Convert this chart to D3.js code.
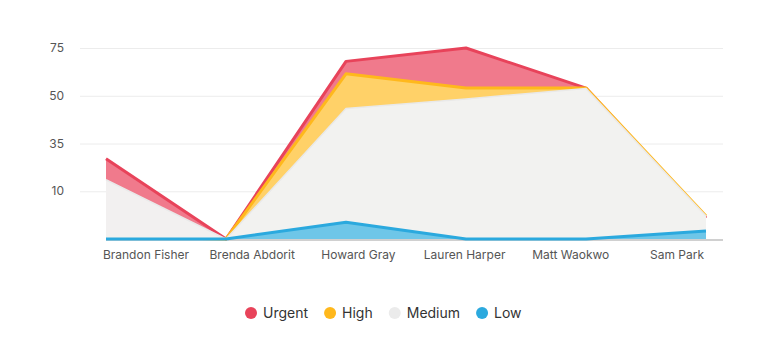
<!DOCTYPE html>
<html>
<head>
<meta charset="utf-8">
<script src="https://cdn.jsdelivr.net/npm/d3@7"></script>
<style>
  body { margin: 0; background: #fff; font-family: Inter, "Noto Sans", sans-serif; }
  .grid line { stroke: #ececec; }
  .tick-label { fill: #555; font-size: 12px; }
</style>
</head>
<body>
<div id="chart"></div>
<script>
// data
var people = ["Brandon Fisher", "Brenda Abdorit", "Howard Gray", "Lauren Harper", "Matt Waokwo", "Sam Park"];
var urgent = [27, 0, 68, 75, 54, 4.4];
var high   = [0.5, 0, 61.5, 54, 54, 4.8];
var medium = [16, 0, 46, 49, 53.8, 4.8];
var low    = [0, 0, 3.5, 0, 0, 1.7];
var yTicks = [10, 35, 50, 75];

var series = [
    { name: "Urgent", values: urgent, stroke: "#e8435a", fill: "#f07a8c", op: 1, sw: 3 },
    { name: "High",   values: high,   stroke: "#ffb81c", fill: "#ffd168", op: 1, sw: 3 },
    { name: "Medium", values: medium, stroke: "#e9e9e9", fill: "#f2f2f2", op: 0.985, sw: 1.5 },
    { name: "Low",    values: low,    stroke: "#2ba9de", fill: "#6ec6e8", op: 1, sw: 3 }
];
var legendColors = ["#e8435a", "#ffb81c", "#ebebeb", "#2ba9de"];

var width = 768, height = 363;
var plotLeft = 80, plotRight = 723, plotTop = 48, plotBottom = 239;

var svg = d3.select("#chart").append("svg")
    .attr("width", width)
    .attr("height", height);

// y axis: ticks are evenly spaced, so use a polylinear scale
var yDomain = [0].concat(yTicks);
var yScale = d3.scaleLinear()
    .domain(yDomain)
    .range(yDomain.map(function (d, i) { return plotBottom - i * (plotBottom - plotTop) / yTicks.length; }));

var xScale = d3.scalePoint().domain(people).range([106, 706]);
var labelScale = d3.scalePoint().domain(people).range([146, 677]);

var grid = svg.append("g").attr("class", "grid");
grid.selectAll("line").data(yTicks).enter().append("line")
    .attr("x1", plotLeft).attr("x2", plotRight)
    .attr("y1", function (d) { return yScale(d) + 0.5; })
    .attr("y2", function (d) { return yScale(d) + 0.5; });

svg.append("g").selectAll("text").data(yTicks).enter().append("text")
    .attr("class", "tick-label")
    .attr("x", 64)
    .attr("y", function (d) { return yScale(d); })
    .attr("dy", "0.35em")
    .attr("text-anchor", "end")
    .text(function (d) { return d; });

// axis base line
svg.append("line")
    .attr("x1", xScale(people[0])).attr("x2", plotRight)
    .attr("y1", plotBottom + 1).attr("y2", plotBottom + 1)
    .attr("stroke", "#d0d0d0").attr("stroke-width", 2);

var area = d3.area()
    .x(function (d, i) { return xScale(people[i]); })
    .y0(yScale(0))
    .y1(function (d) { return yScale(d); });

var line = d3.line()
    .x(function (d, i) { return xScale(people[i]); })
    .y(function (d) { return yScale(d); });

var g = svg.append("g");
series.forEach(function (s) {
    g.append("path")
        .attr("d", area(s.values))
        .attr("fill", s.fill)
        .attr("fill-opacity", s.op);
    g.append("path")
        .attr("d", line(s.values))
        .attr("fill", "none")
        .attr("stroke", s.stroke)
        .attr("stroke-width", s.sw)
        .attr("stroke-linejoin", "round");
});

svg.append("g").selectAll("text").data(people).enter().append("text")
    .attr("class", "tick-label")
    .attr("x", function (d) { return labelScale(d); })
    .attr("y", 259)
    .attr("text-anchor", "middle")
    .text(function (d) { return d; });

// legend
var legend = svg.append("g").attr("transform", "translate(251,313)");
var lx = 0;
series.forEach(function (s, i) {
    var item = legend.append("g").attr("transform", "translate(" + lx + ",0)");
    item.append("circle").attr("r", 6).attr("fill", legendColors[i]);
    var t = item.append("text")
        .attr("x", 12).attr("dy", "0.35em")
        .attr("fill", "#333").style("font-size", "14px")
        .text(s.name);
    lx += 12 + t.node().getComputedTextLength() + 22;
});
</script>
</body>
</html>
